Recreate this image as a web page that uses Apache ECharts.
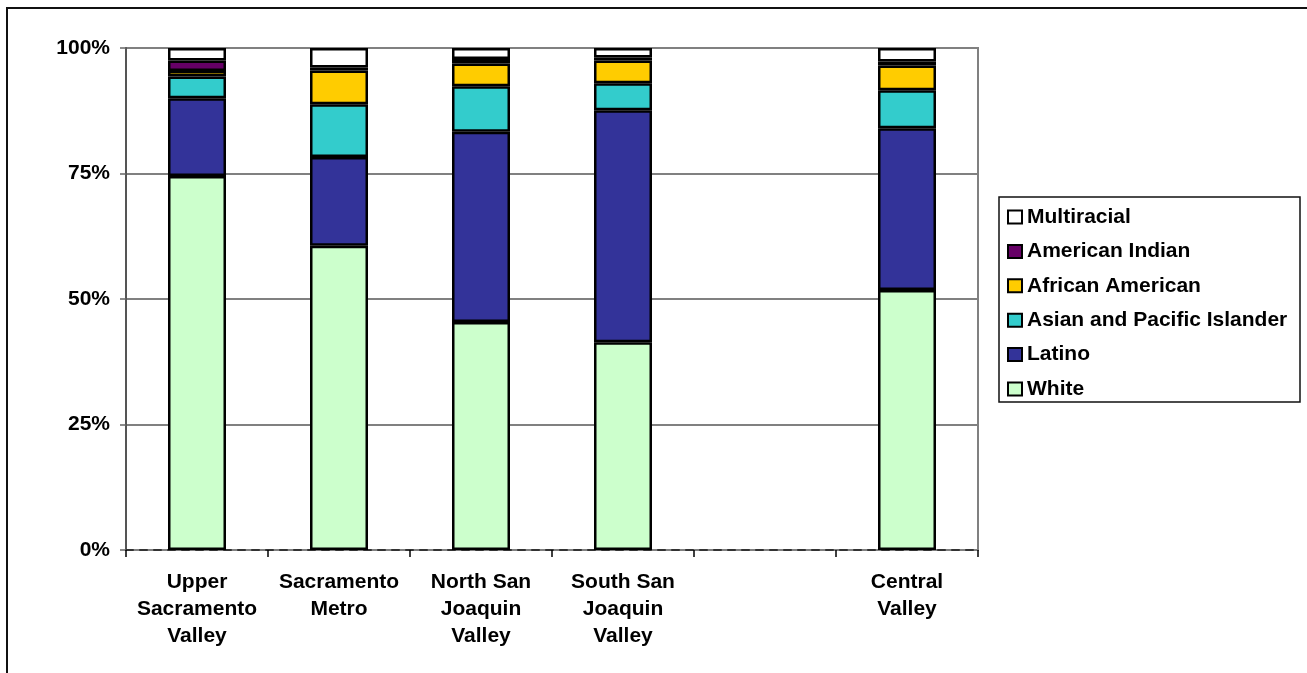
<!DOCTYPE html>
<html>
<head>
<meta charset="utf-8">
<title>Central Valley race/ethnicity</title>
<script src="https://cdn.jsdelivr.net/npm/echarts@6/dist/echarts.min.js"></script>
<style>
  html, body { margin: 0; padding: 0; background: #fff; }
  #chart { width: 1307px; height: 673px; }
</style>
</head>
<body>
<div id="chart"></div>
<script>
// regions (blank slot between South San Joaquin and Central Valley)
var regions = ['Upper\nSacramento\nValley', 'Sacramento\nMetro', 'North San\nJoaquin\nValley', 'South San\nJoaquin\nValley', '', 'Central\nValley']

// shares in percent
var white = [74.5, 60.6, 45.4, 41.4, null, 51.8]
var latino = [15.5, 17.7, 37.9, 46.2, null, 32.2]
var asianPacific = [4.3, 10.5, 9.1, 5.4, null, 7.6]
var africanAmerican = [1.1, 6.7, 4.5, 4.5, null, 4.9]
var americanIndian = [2.1, 0.6, 0.9, 0.6, null, 0.8]
var multiracial = [2.5, 3.9, 2.2, 1.9, null, 2.7]

var yTicks = [0, 25, 50, 75, 100]

var font = 'Liberation Sans, Arial, sans-serif'

var chart = echarts.init(document.getElementById('chart'))

function bar (name, data, color) {
  return {
    name: name,
    type: 'bar',
    stack: 'total',
    data: data,
    barWidth: 58,
    itemStyle: {
      color: color,
      borderColor: '#000',
      borderWidth: 2.5
    },
    emphasis: { disabled: true }
  }
}

var option = {
  animation: false,
  backgroundColor: '#fff',
  graphic: [
    // outer chart frame
    {
      type: 'rect',
      shape: { x: 7, y: 8, width: 1400, height: 800 },
      style: { fill: 'none', stroke: '#111', lineWidth: 2 },
      silent: true
    },
    // legend frame
    {
      type: 'rect',
      shape: { x: 999, y: 197, width: 301, height: 205 },
      style: { fill: '#fff', stroke: '#111', lineWidth: 1.5 },
      z: -1,
      silent: true
    }
  ],
  legend: {
    orient: 'vertical',
    left: 999,
    top: 197,
    padding: [9.5, 8, 5, 8],
    itemWidth: 14,
    itemHeight: 13,
    itemGap: 13.4,
    icon: 'rect',
    data: ['Multiracial', 'American Indian', 'African American', 'Asian and Pacific Islander', 'Latino', 'White'],
    textStyle: {
      fontFamily: font,
      fontWeight: 'bold',
      fontSize: 21,
      lineHeight: 21,
      color: '#000'
    },
    selectedMode: false
  },
  grid: {
    left: 126,
    right: 329,
    top: 48,
    bottom: 123,
    show: true,
    borderColor: '#808080',
    borderWidth: 2,
    containLabel: false
  },
  xAxis: {
    type: 'category',
    data: regions,
    boundaryGap: true,
    axisLine: {
      show: true,
      lineStyle: { color: '#333', width: 2, type: [7, 7] }
    },
    axisTick: {
      show: true,
      alignWithLabel: false,
      length: 7,
      lineStyle: { color: '#000', width: 1.5 }
    },
    axisLabel: {
      margin: 19,
      interval: 0,
      fontFamily: font,
      fontWeight: 'bold',
      fontSize: 21,
      lineHeight: 27,
      color: '#000'
    },
    splitLine: { show: false }
  },
  yAxis: {
    type: 'value',
    min: 0,
    max: 100,
    interval: 25,
    axisLine: {
      show: true,
      lineStyle: { color: '#555', width: 2 }
    },
    axisTick: {
      show: true,
      length: 6,
      lineStyle: { color: '#666', width: 1.5 }
    },
    axisLabel: {
      margin: 16,
      fontFamily: font,
      fontWeight: 'bold',
      fontSize: 21,
      color: '#000',
      formatter: function (v) {
        return yTicks.indexOf(v) >= 0 ? v + '%' : ''
      }
    },
    splitLine: {
      show: true,
      lineStyle: { color: '#808080', width: 2 }
    }
  },
  series: [
    bar('White', white, '#CCFFCC'),
    bar('Latino', latino, '#333399'),
    bar('Asian and Pacific Islander', asianPacific, '#33CCCC'),
    bar('African American', africanAmerican, '#FFCC00'),
    bar('American Indian', americanIndian, '#660066'),
    bar('Multiracial', multiracial, '#FFFFFF')
  ]
}

chart.setOption(option)
</script>
</body>
</html>
